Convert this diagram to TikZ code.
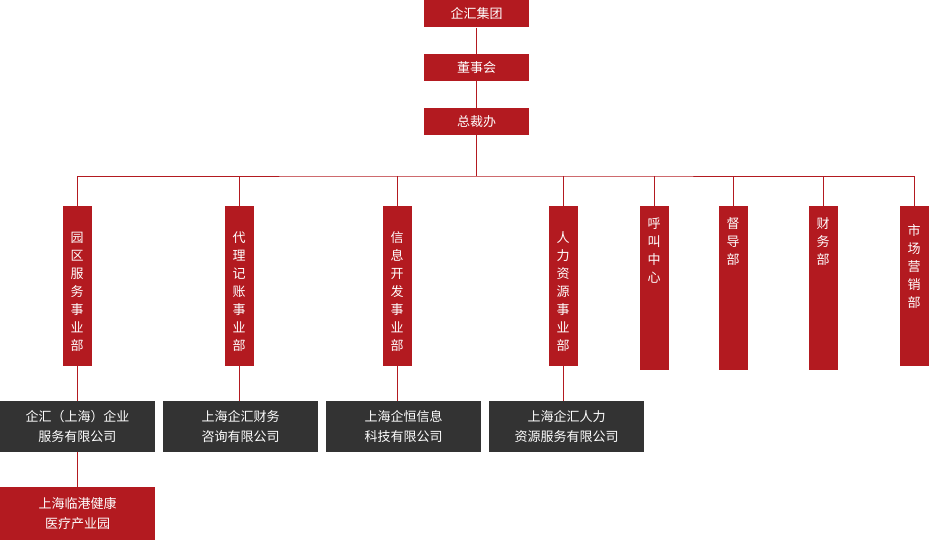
\documentclass[tikz,border=0pt]{standalone}
\usepackage{fontspec}
\setmainfont{Noto Sans CJK SC}
\usepackage{xcolor}
\usepackage{tikz}
\definecolor{orgred}{HTML}{B31A20}
\definecolor{orgdark}{HTML}{333333}
\tikzset{
	top node/.style={fill=orgred,text=white,minimum width=105pt,minimum height=27pt,inner sep=0pt,font=\fontsize{13}{13}\selectfont},
	dept node/.style={fill=orgred,text=white,minimum width=29pt,minimum height=160pt,inner sep=0pt,anchor=north,align=center,font=\fontsize{13}{18}\selectfont,text depth=},
	comp node/.style={fill=orgdark,text=white,minimum width=155pt,minimum height=51pt,inner sep=0pt,anchor=north,align=center,font=\fontsize{13}{20}\selectfont},
	park node/.style={comp node,fill=orgred,minimum height=53pt},
	link/.style={draw=orgred,line width=0.8pt}
}

\begin{document}
\begin{tikzpicture}[x=1pt,y=-1pt]
  \useasboundingbox (0,0) rectangle (929,540);
  \node [top node] (group) at (476.5,14) {企汇集团};
  \node [top node] (board) at (476.5,67.5) {董事会};
  \node [top node] (office) at (476.5,121.5) {总裁办};
  \coordinate (bus) at (476.5,176);
  % departments
  \node [dept node] (d1) at (77,206) {\rule{0pt}{22pt}园\\区\\服\\务\\事\\业\\部};
  \node [dept node] (d2) at (239,206) {\rule{0pt}{22pt}代\\理\\记\\账\\事\\业\\部};
  \node [dept node] (d3) at (397,206) {\rule{0pt}{22pt}信\\息\\开\\发\\事\\业\\部};
  \node [dept node] (d4) at (563,206) {\rule{0pt}{22pt}人\\力\\资\\源\\事\\业\\部};
  \node [dept node,align=center] (d5) at (654,206) {\rule{0pt}{22pt}呼\\叫\\中\\心\\[70pt]};
  \node [dept node] (d6) at (733,206) {\rule{0pt}{22pt}督\\导\\部\\[88pt]};
  \node [dept node] (d7) at (823,206) {\rule{0pt}{22pt}财\\务\\部\\[88pt]};
  \node [dept node] (d8) at (914,206) {\rule{0pt}{22pt}市\\场\\营\\销\\部\\[34pt]};
  % companies
  \node [comp node] (c1) at (77.5,401) {企汇（上海）企业\\服务有限公司};
  \node [comp node] (c2) at (240.5,401) {上海企汇财务\\咨询有限公司};
  \node [comp node] (c3) at (403.5,401) {上海企恒信息\\科技有限公司};
  \node [comp node] (c4) at (566.5,401) {上海企汇人力\\资源服务有限公司};
  \node [park node] (p1) at (77.5,487) {上海临港健康\\医疗产业园};
  % links
  \draw [link] (group) -- (board);
  \draw [link] (board) -- (office);
  \draw [link] (office) -- (bus);
  \draw [link] (d1.north) |- (bus) -| (d8.north);
  \foreach \d in {d2,d3,d4,d5,d6,d7}
    \draw [link] (\d.north) -- (\d.north |- bus);
  \draw [link] (d1) -- (d1 |- c1.north);
  \draw [link] (d2) -- (d2 |- c2.north);
  \draw [link] (d3) -- (d3 |- c3.north);
  \draw [link] (d4) -- (d4 |- c4.north);
  \draw [link] (c1) -- (p1);
\end{tikzpicture}
\end{document}
